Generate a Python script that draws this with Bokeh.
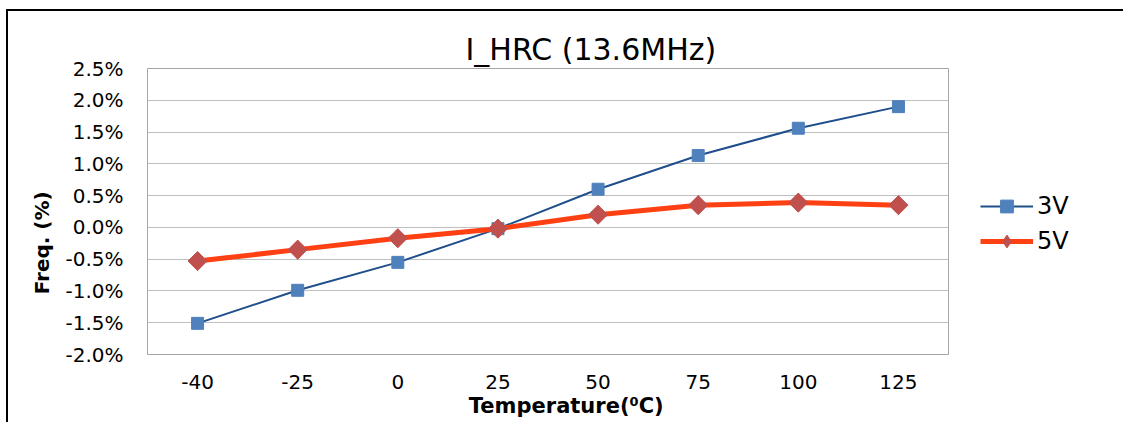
import math
from bokeh.plotting import figure
from bokeh.models import (Range1d, FactorRange, FixedTicker, PrintfTickFormatter,
                          Legend, LegendItem)
from bokeh.embed import file_html
from bokeh.resources import INLINE

# ---- data ----
temperatures = ["-40", "-25", "0", "25", "50", "75", "100", "125"]
freq_3v = [-1.51, -0.99, -0.55, -0.02, 0.60, 1.13, 1.56, 1.90]
freq_5v = [-0.53, -0.35, -0.17, -0.02, 0.20, 0.35, 0.39, 0.35]
y_ticks = [-2.0, -1.5, -1.0, -0.5, 0.0, 0.5, 1.0, 1.5, 2.0, 2.5]
title_text = "I_HRC (13.6MHz)"
x_title = "Temperature(\u2070C)"
y_title = "Freq. (%)"
series_names = ["3V", "5V"]

FONT = "DejaVu Sans"
NBSP = "\u00a0"

p = figure(
    x_range=FactorRange(factors=temperatures, range_padding=0),
    y_range=Range1d(-2.0, 2.5),
    frame_width=801, frame_height=286,
    min_border_left=139, min_border_right=173,
    min_border_top=57, min_border_bottom=68,
    output_backend="svg", toolbar_location=None,
    background_fill_color="white", border_fill_color="white",
)
p.styles = {"margin-left": "6px", "margin-top": "9px",
            "border-top": "2px solid black", "border-left": "2px solid black"}

p.outline_line_color = "#A6A6A6"
p.outline_line_width = 1
p.xgrid.grid_line_color = None
p.ygrid.grid_line_color = "#BFBFBF"
p.ygrid.grid_line_width = 1

# title
p.title.text = title_text
p.title.text_font = FONT
p.title.text_font_size = "30px"
p.title.text_font_style = "normal"
p.title.text_color = "#000000"
p.title.align = "left"
p.title.offset = 318
p.title.standoff = 4

p.yaxis.ticker = FixedTicker(ticks=y_ticks)
p.yaxis.formatter = PrintfTickFormatter(format="%.1f%%")
for ax in (p.xaxis[0], p.yaxis[0]):
    ax.axis_line_color = None
    ax.major_tick_line_color = None
    ax.minor_tick_line_color = None
    ax.major_tick_in = 0
    ax.major_tick_out = 0
    ax.major_label_text_font = FONT
    ax.major_label_text_font_size = "20px"
    ax.major_label_text_color = "#000000"
    ax.axis_label_text_font = FONT
    ax.axis_label_text_font_style = "bold"
    ax.axis_label_text_color = "#000000"
p.yaxis.major_label_standoff = 24
p.xaxis.major_label_standoff = 20

p.xaxis.axis_label = NBSP * 5 + x_title
p.xaxis.axis_label_text_font_size = "21px"
p.xaxis.axis_label_standoff = 2
p.yaxis.axis_label = y_title + NBSP * 9
p.yaxis.axis_label_text_font_size = "20px"
p.yaxis.axis_label_standoff = 8

r3 = p.line(temperatures, freq_3v, line_color="#1F4E8C", line_width=2)
m3 = p.scatter(temperatures, freq_3v, marker="square", size=12,
               fill_color="#4F81BD", line_color="#4F81BD")
r5 = p.line(temperatures, freq_5v, line_color="#FF4013", line_width=5)
# diamond used for the legend swatch; hidden under the larger rotated squares
m5_diamond = p.scatter(temperatures, freq_5v, marker="diamond", size=18,
                       fill_color="#C0504D", line_color="#C0504D")
m5 = p.scatter(temperatures, freq_5v, marker="square", size=13.5, angle=math.pi / 4,
               fill_color="#C0504D", line_color="#C0504D")

legend = Legend(
    items=[LegendItem(label=series_names[0], renderers=[r3, m3]),
           LegendItem(label=series_names[1], renderers=[r5, m5_diamond])],
    location=(32, 97),
    padding=0, margin=0, spacing=3,
    glyph_width=53, glyph_height=32, label_height=32,
    label_standoff=4,
    label_text_font=FONT, label_text_font_size="24px", label_text_color="#000000",
    border_line_color=None, background_fill_alpha=0,
)
p.add_layout(legend, "right")

open("out.html", "w").write(file_html(p, INLINE))
